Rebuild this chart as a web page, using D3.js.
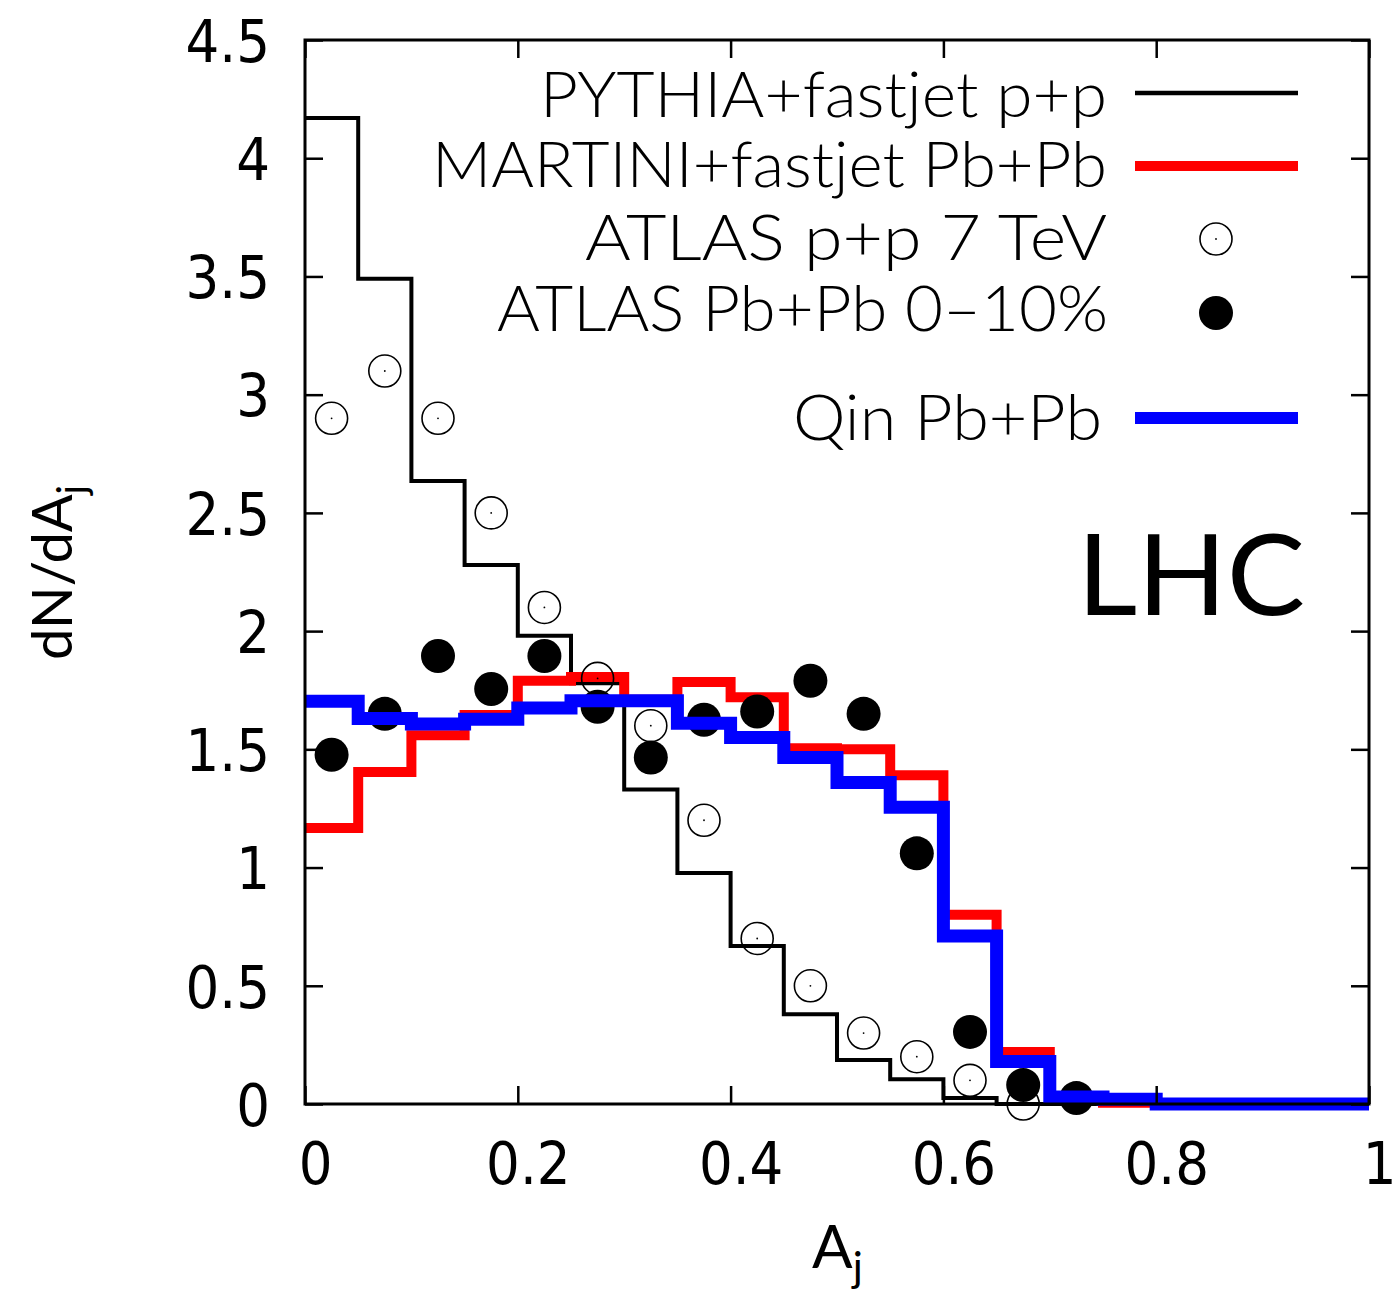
<!DOCTYPE html>
<html><head><meta charset="utf-8">
<script src="https://cdn.jsdelivr.net/npm/d3@7"></script>
<style>html,body{margin:0;padding:0;background:#fff;}</style>
</head><body>
<svg id="c" width="1396" height="1298"></svg>
<script>
// ---- data ----
const binEdges = [0,0.05,0.1,0.15,0.2,0.25,0.3,0.35,0.4,0.45,0.5,0.55,0.6,0.65,0.7,0.75,0.8,0.85,0.9,0.95,1.0];
const pythiaPP = [4.17,3.49,2.635,2.28,1.98,1.78,1.33,0.977,0.668,0.38,0.186,0.105,0.025,0,0,0];
const martiniPbPb = [1.167,1.404,1.56,1.645,1.79,1.806,1.71,1.785,1.72,1.505,1.50,1.39,0.80,0.22,0.025,0.005];
const qinPbPb = [1.703,1.63,1.607,1.627,1.675,1.705,1.705,1.61,1.55,1.465,1.36,1.255,0.71,0.18,0.03,0.02,0,0,0,0];
const atlasPPx = [0.025,0.075,0.125,0.175,0.225,0.275,0.325,0.375,0.425,0.475,0.525,0.575,0.625,0.675];
const atlasPPy = [2.90,3.10,2.90,2.50,2.10,1.80,1.60,1.20,0.70,0.50,0.30,0.20,0.10,0.0];
const atlasPbx = [0.025,0.075,0.125,0.175,0.225,0.275,0.325,0.375,0.425,0.475,0.525,0.575,0.625,0.675,0.725];
const atlasPby = [1.477,1.65,1.895,1.755,1.895,1.68,1.465,1.625,1.66,1.79,1.65,1.06,0.305,0.08,0.025];
const xTicks = [0,0.2,0.4,0.6,0.8,1];
const xTickLabels = ["0","0.2","0.4","0.6","0.8","1"];
const yTicks = [0,0.5,1,1.5,2,2.5,3,3.5,4,4.5];
const yTickLabels = ["0","0.5","1","1.5","2","2.5","3","3.5","4","4.5"];
const legendLabels = ["PYTHIA+fastjet p+p","MARTINI+fastjet Pb+Pb","ATLAS p+p 7 TeV","ATLAS Pb+Pb 0\u201310%","Qin Pb+Pb"];

// ---- layout ----
const L=305,R=1369,T=40,B=1104;
const svg=d3.select("#c");
const x=d3.scaleLinear().domain([0,1]).range([L,R]);
const y=d3.scaleLinear().domain([0,4.5]).range([B,T]);

const g=svg.append("g");
function stepPts(vals){
  const pts=vals.map((v,i)=>[binEdges[i],v]);
  pts.push([binEdges[vals.length],vals[vals.length-1]]);
  return pts;
}
const line=d3.line().x(d=>x(d[0])).y(d=>y(d[1])).curve(d3.curveStepAfter);

// black
g.append("path").attr("d",line(stepPts(pythiaPP))).attr("fill","none").attr("stroke","#000").attr("stroke-width",4).attr("stroke-linejoin","miter");
// red
g.append("path").attr("d",line(stepPts(martiniPbPb))).attr("fill","none").attr("stroke","#ff0000").attr("stroke-width",10).attr("stroke-linejoin","miter");
// open circles
const oc=g.append("g");
atlasPPx.forEach((xv,i)=>{
  oc.append("circle").attr("cx",x(xv)).attr("cy",y(atlasPPy[i])).attr("r",16).attr("fill","none").attr("stroke","#000").attr("stroke-width",1.6);
  oc.append("circle").attr("cx",x(xv)).attr("cy",y(atlasPPy[i])).attr("r",0.9).attr("fill","#000");
});
// filled circles
g.append("g").selectAll("circle").data(atlasPbx).join("circle")
  .attr("cx",d=>x(d)).attr("cy",(d,i)=>y(atlasPby[i])).attr("r",17).attr("fill","#000");
// blue
g.append("path").attr("d",line(stepPts(qinPbPb))).attr("fill","none").attr("stroke","#0000ff").attr("stroke-width",13).attr("stroke-linejoin","miter");

// frame
svg.append("rect").attr("x",L).attr("y",T).attr("width",R-L).attr("height",B-T).attr("fill","none").attr("stroke","#000").attr("stroke-width",3);

// axes (inward ticks on all sides)
const tickFont='"DejaVu Sans Condensed","DejaVu Sans",sans-serif';
const axB=svg.append("g").attr("transform",`translate(0,${B})`)
  .call(d3.axisBottom(x).tickValues(xTicks).tickFormat((d,i)=>xTickLabels[i]).tickSize(-18).tickPadding(38));
const axT=svg.append("g").attr("transform",`translate(0,${T})`)
  .call(d3.axisTop(x).tickValues(xTicks).tickFormat("").tickSize(-18));
const axL=svg.append("g").attr("transform",`translate(${L},0)`)
  .call(d3.axisLeft(y).tickValues(yTicks).tickFormat((d,i)=>yTickLabels[i]).tickSize(-18).tickPadding(35));
const axR=svg.append("g").attr("transform",`translate(${R},0)`)
  .call(d3.axisRight(y).tickValues(yTicks).tickFormat("").tickSize(-18));
[axB,axT,axL,axR].forEach(a=>{
  a.select(".domain").remove();
  a.selectAll(".tick line").attr("stroke","#000").attr("stroke-width",2.5);
  a.selectAll("text").attr("font-family",tickFont).attr("font-size",59).attr("fill","#000").attr("font-stretch","condensed");
});
axL.selectAll("text").attr("dy","0.36em");
axB.selectAll("text").attr("dy","0.71em").attr("dx",10);

// axis titles
const titleFont='Lato,"Open Sans",sans-serif';
const xt=svg.append("text").attr("x",812).attr("y",1268).attr("font-family",titleFont).attr("font-size",60).attr("fill","#000");
xt.append("tspan").text("A");
xt.append("tspan").attr("font-size",42).attr("dy",14).text("j");
const yt=svg.append("text").attr("transform","translate(72,660) rotate(-90)").attr("font-family",titleFont).attr("font-size",56).attr("fill","#000");
yt.append("tspan").text("dN/dA");
yt.append("tspan").attr("font-size",40).attr("dy",14).text("j");

// legend
const legFont='Lato,"Open Sans",sans-serif';
const legRows=[
  {yb:117, yc:93, w:567, type:"line", color:"#000", sw:4.5},
  {yb:187, yc:166, w:675, type:"line", color:"#ff0000", sw:10},
  {yb:260, yc:239, w:522, type:"open"},
  {yb:331, yc:313, w:611, type:"filled"},
  {yb:440, yc:418, w:309, type:"line", color:"#0000ff", sw:12}
];
const rightX=[1107,1107,1107,1108,1102];
legRows.forEach((r,i)=>{
  svg.append("text").attr("x",rightX[i]).attr("y",r.yb).attr("text-anchor","end")
    .attr("font-family",legFont).attr("font-weight",300).attr("font-size",64).attr("fill","#000")
    .attr("textLength",r.w).attr("lengthAdjust","spacingAndGlyphs").text(legendLabels[i]);
  if(r.type==="line"){
    svg.append("line").attr("x1",1135).attr("x2",1298).attr("y1",r.yc).attr("y2",r.yc).attr("stroke",r.color).attr("stroke-width",r.sw);
  } else if(r.type==="open"){
    svg.append("circle").attr("cx",1216).attr("cy",r.yc).attr("r",16).attr("fill","none").attr("stroke","#000").attr("stroke-width",1.6);
    svg.append("circle").attr("cx",1216).attr("cy",r.yc).attr("r",0.9).attr("fill","#000");
  } else {
    svg.append("circle").attr("cx",1216).attr("cy",r.yc).attr("r",17).attr("fill","#000");
  }
});

// LHC label
svg.append("text").attr("x",1077).attr("y",615).attr("font-family",legFont).attr("font-size",112).attr("fill","#000")
  .attr("textLength",228).attr("lengthAdjust","spacingAndGlyphs").text("LHC");
</script>
</body></html>
